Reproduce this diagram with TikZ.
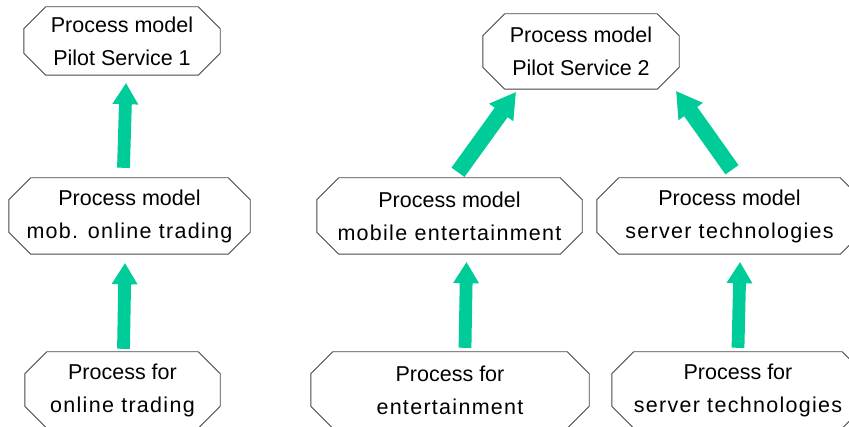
\documentclass[tikz,border=0pt]{standalone}
\usepackage{fontspec}
\setmainfont{Liberation Sans}
% letter-spaced variant for the wider second lines
\newfontfamily\spacedsans[LetterSpace=6]{Liberation Sans}
\usetikzlibrary{calc}

\definecolor{arrowgreen}{RGB}{0,204,153}
\definecolor{framegray}{RGB}{70,70,70}

\newcommand\wideline[1]{{\spacedsans #1}}

\tikzset{
  procbox/.style 2 args={draw=none, inner sep=0pt, align=center,
    minimum width=#1, minimum height=#2,
    font=\fontsize{21.5}{33}\selectfont},
  boxframe/.style={draw=framegray, line width=0.9pt, line join=miter},
  arrowbody/.style={fill=arrowgreen, draw=none},
}

% octagonal frame around a named node, corners cut by 22 units
\newcommand\octagonframe[1]{%
  \draw[boxframe]
    ($(#1.north west)+(22,0)$) -- ($(#1.north east)+(-22,0)$) --
    ($(#1.north east)+(0,22)$) -- ($(#1.south east)+(0,-22)$) --
    ($(#1.south east)+(-22,0)$) -- ($(#1.south west)+(22,0)$) --
    ($(#1.south west)+(0,-22)$) -- ($(#1.north west)+(0,22)$) -- cycle;}

% block arrow from #1 (tail) to #2 (tip): shaft half width #3, head half width #4, head length #5
\newcommand\blockarrow[5]{%
  \path ($(#2)!#5pt!(#1)$) coordinate (hb);
  \fill[arrowbody]
    ($(#1)!#3pt!90:(#2)$) -- ($(hb)!#3pt!-90:(#1)$) -- ($(hb)!#4pt!-90:(#1)$) --
    (#2) --
    ($(hb)!#4pt!90:(#1)$) -- ($(hb)!#3pt!90:(#1)$) -- ($(#1)!#3pt!-90:(#2)$) -- cycle;}

\begin{document}
\begin{tikzpicture}[x=1pt,y=-1pt]
  \useasboundingbox (0,0) rectangle (849,427);
  \clip (0,0) rectangle (849,427);

  % process model nodes
  \node[procbox={196pt}{68pt}] (ps1) at (122,41) {Process model\\Pilot Service 1};
  \node[procbox={196pt}{75pt}] (ps2) at (581,51.5) {Process model\\Pilot Service 2};
  \node[procbox={241pt}{76pt}] (mob) at (129.5,216) {Process model\\\wideline{mob. online trading}};
  \node[procbox={265pt}{76pt}] (ment) at (449.5,216) {Process model\\\wideline{mobile entertainment}};
  \node[procbox={265pt}{76pt}] (msrv) at (729.5,216) {Process model\\\wideline{server technologies}};

  % process nodes
  \node[procbox={195pt}{76pt}] (pot) at (122.5,390) {Process for\\\wideline{online trading}};
  \node[procbox={278pt}{76pt}] (pent) at (450,390) {Process for\\\wideline{entertainment}};
  \node[procbox={252pt}{76pt}] (psrv) at (738,390) {Process for\\\wideline{server technologies}};

  \foreach \n in {ps1,ps2,mob,ment,msrv,pot,pent,psrv} {\octagonframe{\n}}

  % arrow end points
  \coordinate (a1s) at ($(mob.north)+(-6,-10)$);
  \coordinate (a1t) at ($(ps1.south)+(4,8)$);
  \coordinate (a2s) at ($(pot.north)+(1,-3)$);
  \coordinate (a2t) at ($(mob.south)+(-4.5,9)$);
  \coordinate (a3s) at ($(pent.north)+(15,-4)$);
  \coordinate (a3t) at ($(ment.south)+(17,8)$);
  \coordinate (a4s) at ($(psrv.north)+(0,-4)$);
  \coordinate (a4t) at ($(msrv.south)+(10.5,8)$);
  \coordinate (a5s) at ($(ment.north)+(8.5,-5.5)$);
  \coordinate (a5t) at ($(ps2.south west)+(33,3)$);
  \coordinate (a6s) at ($(msrv.north)+(2.5,-8)$);
  \coordinate (a6t) at ($(ps2.south east)+(-3,2)$);

  \blockarrow{a1s}{a1t}{6.4}{13}{21}
  \blockarrow{a2s}{a2t}{6.4}{13}{21}
  \blockarrow{a3s}{a3t}{6.4}{13}{21}
  \blockarrow{a4s}{a4t}{6.4}{13}{21}
  \blockarrow{a5s}{a5t}{8}{15}{25}
  \blockarrow{a6s}{a6t}{8}{15}{25}
\end{tikzpicture}
\end{document}
